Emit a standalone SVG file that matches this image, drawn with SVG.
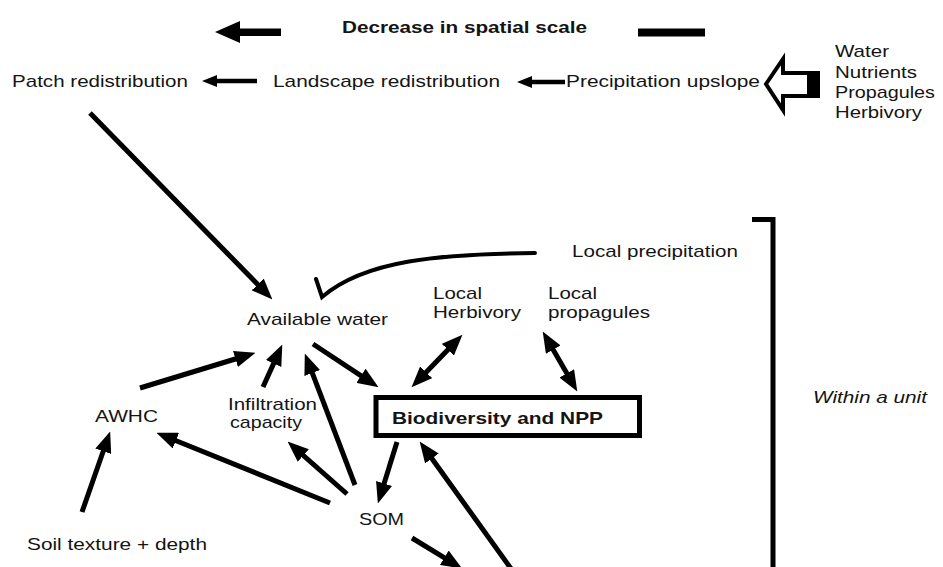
<svg xmlns="http://www.w3.org/2000/svg" width="943" height="567" viewBox="0 0 943 567">
<style>
text{font-family:"Liberation Sans",Arial,sans-serif;font-size:17px;fill:#141414}
.b{font-weight:bold;font-size:16.5px}
.i{font-style:italic}
.ln{stroke:#000;stroke-width:5;fill:none}
.cv{stroke:#000;stroke-width:4;fill:none;stroke-linecap:round}
.ar{marker-end:url(#ah)}
.dbl{marker-start:url(#ah);marker-end:url(#ah)}
</style>
<defs>
<marker id="ah" viewBox="0 0 20 16" markerWidth="21" markerHeight="17" markerUnits="userSpaceOnUse" refX="8" refY="8" orient="auto-start-reverse">
<path d="M0,0 L20,8 L0,16 z" fill="#000"/>
</marker>
</defs>
<rect width="943" height="567" fill="#fff"/>

<g id="scale-header">
<polygon points="215,32 240,21 240,28.5 281,28.5 281,36 240,36 240,43" fill="#000"/>
<text class="b" x="342" y="33" textLength="245" lengthAdjust="spacingAndGlyphs">Decrease in spatial scale</text>
<rect x="638" y="28.5" width="67" height="8" fill="#000"/>
</g>

<g id="patch-redistribution"><text x="12" y="87" textLength="176" lengthAdjust="spacingAndGlyphs">Patch redistribution</text></g>
<g id="landscape-redistribution"><text x="273" y="87" textLength="227" lengthAdjust="spacingAndGlyphs">Landscape redistribution</text></g>
<g id="precipitation-upslope"><text x="566" y="87" textLength="194" lengthAdjust="spacingAndGlyphs">Precipitation upslope</text></g>
<g id="inputs">
<text x="835" y="57" textLength="54" lengthAdjust="spacingAndGlyphs">Water</text>
<text x="835" y="77.5" textLength="82" lengthAdjust="spacingAndGlyphs">Nutrients</text>
<text x="835" y="97.5" textLength="100" lengthAdjust="spacingAndGlyphs">Propagules</text>
<text x="835" y="118" textLength="87" lengthAdjust="spacingAndGlyphs">Herbivory</text>
</g>
<g id="local-precipitation"><text x="572" y="257" textLength="166" lengthAdjust="spacingAndGlyphs">Local precipitation</text></g>
<g id="available-water"><text x="247" y="325" textLength="141" lengthAdjust="spacingAndGlyphs">Available water</text></g>
<g id="local-herbivory">
<text x="433" y="299" textLength="49" lengthAdjust="spacingAndGlyphs">Local</text>
<text x="433" y="318" textLength="88" lengthAdjust="spacingAndGlyphs">Herbivory</text>
</g>
<g id="local-propagules">
<text x="548" y="299" textLength="49" lengthAdjust="spacingAndGlyphs">Local</text>
<text x="548" y="318" textLength="102" lengthAdjust="spacingAndGlyphs">propagules</text>
</g>
<g id="biodiversity-npp">
<rect x="376" y="397.5" width="263.5" height="38" fill="#fff" stroke="#000" stroke-width="5"/>
<text class="b" x="392" y="424" textLength="211" lengthAdjust="spacingAndGlyphs">Biodiversity and NPP</text>
</g>
<g id="awhc"><text x="95" y="422" textLength="63" lengthAdjust="spacingAndGlyphs">AWHC</text></g>
<g id="infiltration-capacity">
<text x="228" y="410" textLength="89" lengthAdjust="spacingAndGlyphs">Infiltration</text>
<text x="230" y="428" textLength="72" lengthAdjust="spacingAndGlyphs">capacity</text>
</g>
<g id="som"><text x="359" y="525" textLength="45" lengthAdjust="spacingAndGlyphs">SOM</text></g>
<g id="soil-texture"><text x="27" y="550" textLength="180" lengthAdjust="spacingAndGlyphs">Soil texture + depth</text></g>
<g id="within-unit">
<path d="M752,219.5 H773 V570" fill="none" stroke="#000" stroke-width="5"/>
<text class="i" x="813" y="403" textLength="114" lengthAdjust="spacingAndGlyphs">Within a unit</text>
</g>

<g id="connectors">
<polygon points="202,81 217,75 217,78.7 257,78.7 257,83.3 217,83.3 217,87" fill="#000"/>
<polygon points="517,82 532,76 532,79.7 565,79.7 565,84.3 532,84.3 532,88" fill="#000"/>
<g id="hollow-arrow">
<polygon points="766,84 783,59 783,73 818,73 818,96 783,96 783,110" fill="#fff" stroke="#000" stroke-width="4" stroke-linejoin="miter"/>
<rect x="807" y="73" width="11" height="23" fill="#000"/>
</g>
<path class="cv" d="M535,253 C440,254 365,260 322,297 L316,279"/>
<line class="ln ar" x1="90" y1="113" x2="263.6" y2="290.4"/>
<line class="ln ar" x1="140" y1="388" x2="243.5" y2="356.5"/>
<line class="ln ar" x1="263" y1="387" x2="277.1" y2="355.9"/>
<line class="ln ar" x1="355" y1="485" x2="309.3" y2="365.2"/>
<line class="ln ar" x1="313" y1="344" x2="368" y2="380.4"/>
<line class="ln dbl" x1="420.3" y1="378.3" x2="453.7" y2="343.7"/>
<line class="ln dbl" x1="549" y1="342.4" x2="571" y2="380.6"/>
<line class="ln ar" x1="397" y1="442" x2="381.6" y2="491.5"/>
<line class="ln ar" x1="512" y1="570" x2="427" y2="451.7"/>
<line class="ln ar" x1="412" y1="538" x2="451.5" y2="562.1"/>
<line class="ln ar" x1="330" y1="503" x2="168.1" y2="437.5"/>
<line class="ln ar" x1="347" y1="494" x2="297" y2="449.9"/>
<line class="ln ar" x1="82" y1="512" x2="106" y2="443.3"/>
</g>
</svg>
